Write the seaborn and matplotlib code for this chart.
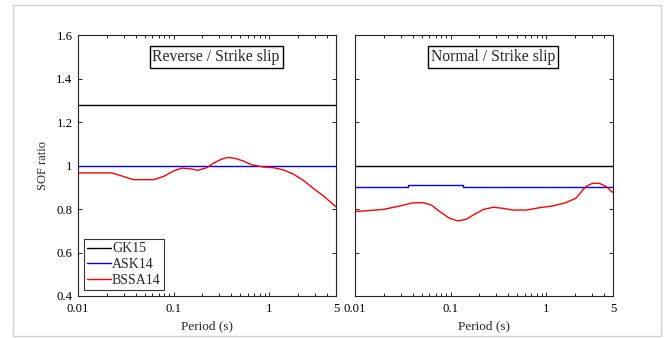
import numpy as np
import pandas as pd
import matplotlib
matplotlib.use("Agg")
import matplotlib.pyplot as plt
import seaborn as sns
from matplotlib.patches import Rectangle

# ---- data ----
series_names = ["GK15", "ASK14", "BSSA14"]
series_colors = ["black", "blue", "red"]

# Reverse / Strike slip
rev_gk15_period = [0.01, 5.0]
rev_gk15_ratio = [1.28, 1.28]
rev_ask14_period = [0.01, 5.0]
rev_ask14_ratio = [1.0, 1.0]
rev_bssa14_period = [0.01, 0.0226, 0.038, 0.062, 0.079, 0.1, 0.122, 0.149, 0.18, 0.223,
                     0.26, 0.32, 0.37, 0.44, 0.54, 0.66, 0.87, 1.11, 1.4, 1.8,
                     2.3, 2.9, 3.7, 5.0]
rev_bssa14_ratio = [0.966, 0.966, 0.935, 0.935, 0.95, 0.975, 0.988, 0.985, 0.978, 0.99,
                    1.01, 1.03, 1.037, 1.033, 1.02, 1.003, 0.993, 0.99, 0.98, 0.96,
                    0.93, 0.895, 0.86, 0.81]

# Normal / Strike slip
nor_gk15_period = [0.01, 5.0]
nor_gk15_ratio = [1.0, 1.0]
nor_ask14_period = [0.01, 0.036, 0.036, 0.135, 0.135, 5.0]
nor_ask14_ratio = [0.903, 0.903, 0.909, 0.909, 0.903, 0.903]
nor_bssa14_period = [0.01, 0.0132, 0.0198, 0.0295, 0.04, 0.052, 0.063, 0.077, 0.098, 0.12,
                     0.146, 0.172, 0.22, 0.28, 0.355, 0.45, 0.62, 0.85, 1.17, 1.6,
                     2.04, 2.6, 3.05, 3.6, 4.25, 5.0]
nor_bssa14_ratio = [0.788, 0.792, 0.798, 0.814, 0.828, 0.829, 0.818, 0.788, 0.757, 0.745,
                    0.753, 0.772, 0.798, 0.808, 0.803, 0.795, 0.795, 0.806, 0.814, 0.829,
                    0.849, 0.903, 0.918, 0.918, 0.903, 0.875]

panel_titles = ["Reverse / Strike slip", "Normal / Strike slip"]
xtick_vals = [0.01, 0.1, 1, 5]
xtick_labels = ["0.01", "0.1", "1", "5"]
ytick_vals = [0.4, 0.6, 0.8, 1.0, 1.2, 1.4, 1.6]
ytick_labels = ["0.4", "0.6", "0.8", "1", "1.2", "1.4", "1.6"]


def make_df(gp, gr, ap, ar, bp, br):
    frames = []
    for name, p, r in zip(series_names, [gp, ap, bp], [gr, ar, br]):
        frames.append(pd.DataFrame({"Period": p, "Ratio": r, "Model": name}))
    return pd.concat(frames, ignore_index=True)


df_rev = make_df(rev_gk15_period, rev_gk15_ratio, rev_ask14_period, rev_ask14_ratio,
                 rev_bssa14_period, rev_bssa14_ratio)
df_nor = make_df(nor_gk15_period, nor_gk15_ratio, nor_ask14_period, nor_ask14_ratio,
                 nor_bssa14_period, nor_bssa14_ratio)

sns.set_style("ticks")
plt.rcParams["font.family"] = ["Liberation Serif", "DejaVu Serif"]

fig = plt.figure(figsize=(6.69, 3.38), dpi=100)
fig.patch.set_facecolor("white")
fig.patches.append(Rectangle((13 / 669, 2 / 338), (661 - 13) / 669, (333 - 2) / 338,
                             transform=fig.transFigure, fill=False,
                             edgecolor="#cfcfcf", linewidth=1.0))

ax1 = fig.add_axes([78 / 669, 1 - 296 / 338, 258 / 669, 261 / 338])
ax2 = fig.add_axes([355 / 669, 1 - 296 / 338, 258 / 669, 261 / 338])

palette = dict(zip(series_names, series_colors))

for ax, df, title in zip([ax1, ax2], [df_rev, df_nor], panel_titles):
    sns.lineplot(data=df, x="Period", y="Ratio", hue="Model", hue_order=series_names,
                 palette=palette, estimator=None, sort=False, linewidth=1.0, ax=ax,
                 legend=(ax is ax1))
    ax.set_xscale("log")
    ax.set_xlim(0.01, 5)
    ax.set_ylim(0.4, 1.6)
    ax.set_xticks(xtick_vals)
    ax.set_xticklabels(xtick_labels)
    ax.set_yticks(ytick_vals)
    ax.tick_params(which="both", direction="in", top=True, right=True,
                   labelsize=9.2, colors="black")
    ax.tick_params(axis="x", pad=5)
    ax.tick_params(axis="y", pad=4)
    ax.tick_params(which="major", length=3, width=0.6)
    ax.tick_params(which="minor", length=2, width=0.6)
    for s in ax.spines.values():
        s.set_linewidth(0.8)
        s.set_color("#222222")
    ax.set_xlabel("Period (s)", fontsize=9.5, labelpad=4)
    ax.set_ylabel("")
    ax.text(0.535, 0.916, title, transform=ax.transAxes, ha="center", va="center",
            fontsize=11.3,
            bbox=dict(boxstyle="square,pad=0.18", facecolor="white",
                      edgecolor="black", linewidth=1.0))

ax1.set_yticklabels(ytick_labels)
ax1.set_ylabel("SOF ratio", fontsize=9, labelpad=5)
ax2.set_yticklabels([])

leg = ax1.legend(loc="lower left", fontsize=10, frameon=True, fancybox=False,
                 handlelength=1.7, handletextpad=0.1, borderpad=0.25,
                 labelspacing=0.2, borderaxespad=0.4)
leg.get_frame().set_edgecolor("black")
leg.get_frame().set_linewidth(0.8)
leg.set_title(None)

fig.savefig("out.png", dpi=100, facecolor="white")
